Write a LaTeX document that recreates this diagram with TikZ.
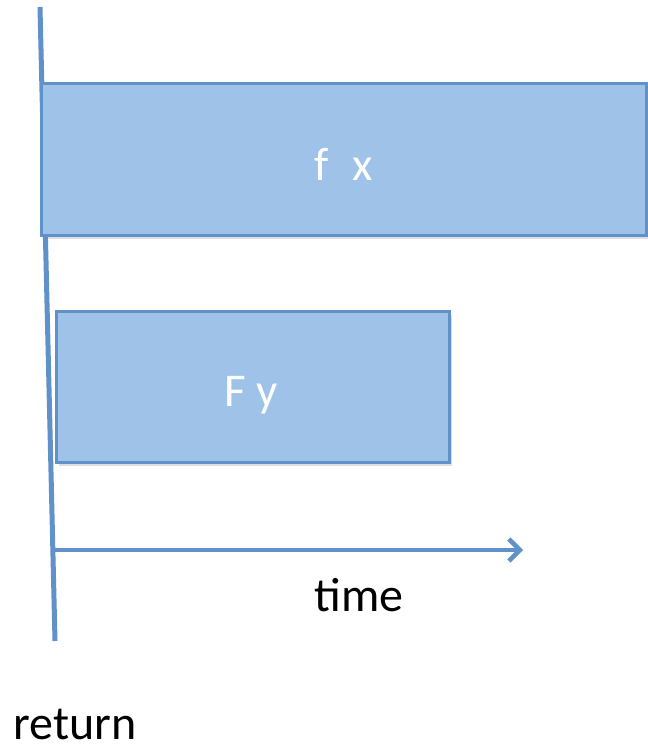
\documentclass[tikz,border=0pt]{standalone}
\usepackage{fontspec}
\setmainfont{Carlito}
\usetikzlibrary{arrows.meta,shadows}
\definecolor{boxfill}{RGB}{158,194,232}
\definecolor{boxline}{RGB}{96,146,201}
\tikzset{
  bar/.style={draw=boxline, fill=boxfill, line width=3pt, anchor=north west, inner sep=0pt,
    drop shadow={shadow xshift=2pt, shadow yshift=-3pt, opacity=0.25}},
  bartext/.style={text=white, font=\fontsize{47}{54}\selectfont},
  lbl/.style={text=black, font=\fontsize{48}{56}\selectfont},
  axis/.style={draw=boxline, line width=5pt}
}
\begin{document}
\begin{tikzpicture}[x=1pt,y=-1pt]
\useasboundingbox (0,0) rectangle (647,751);
\coordinate (top) at (40,7);
\coordinate (bot) at (55,641);
\draw[axis] (top) -- (bot);
\node[bar, minimum width=605pt, minimum height=152pt] (fx) at (40,82) {};
\node[bartext] at ([yshift=-5pt]fx.center) {f\,\,\,x};
\node[bar, minimum width=393pt, minimum height=151pt] (Fy) at (55,310) {};
\node[bartext] at ([xshift=-2pt,yshift=-8pt]Fy.center) {F y};
\coordinate (t0) at (53,550);
\coordinate (t1) at (523,550);
\draw[axis, line width=4.5pt, -{Straight Barb[length=11pt,width=22pt,line width=4.5pt]}] (t0) -- (t1);
\node[lbl] (time) at (359,595) {time};
\node[lbl] (ret) at (75,724) {return};
\end{tikzpicture}
\end{document}
